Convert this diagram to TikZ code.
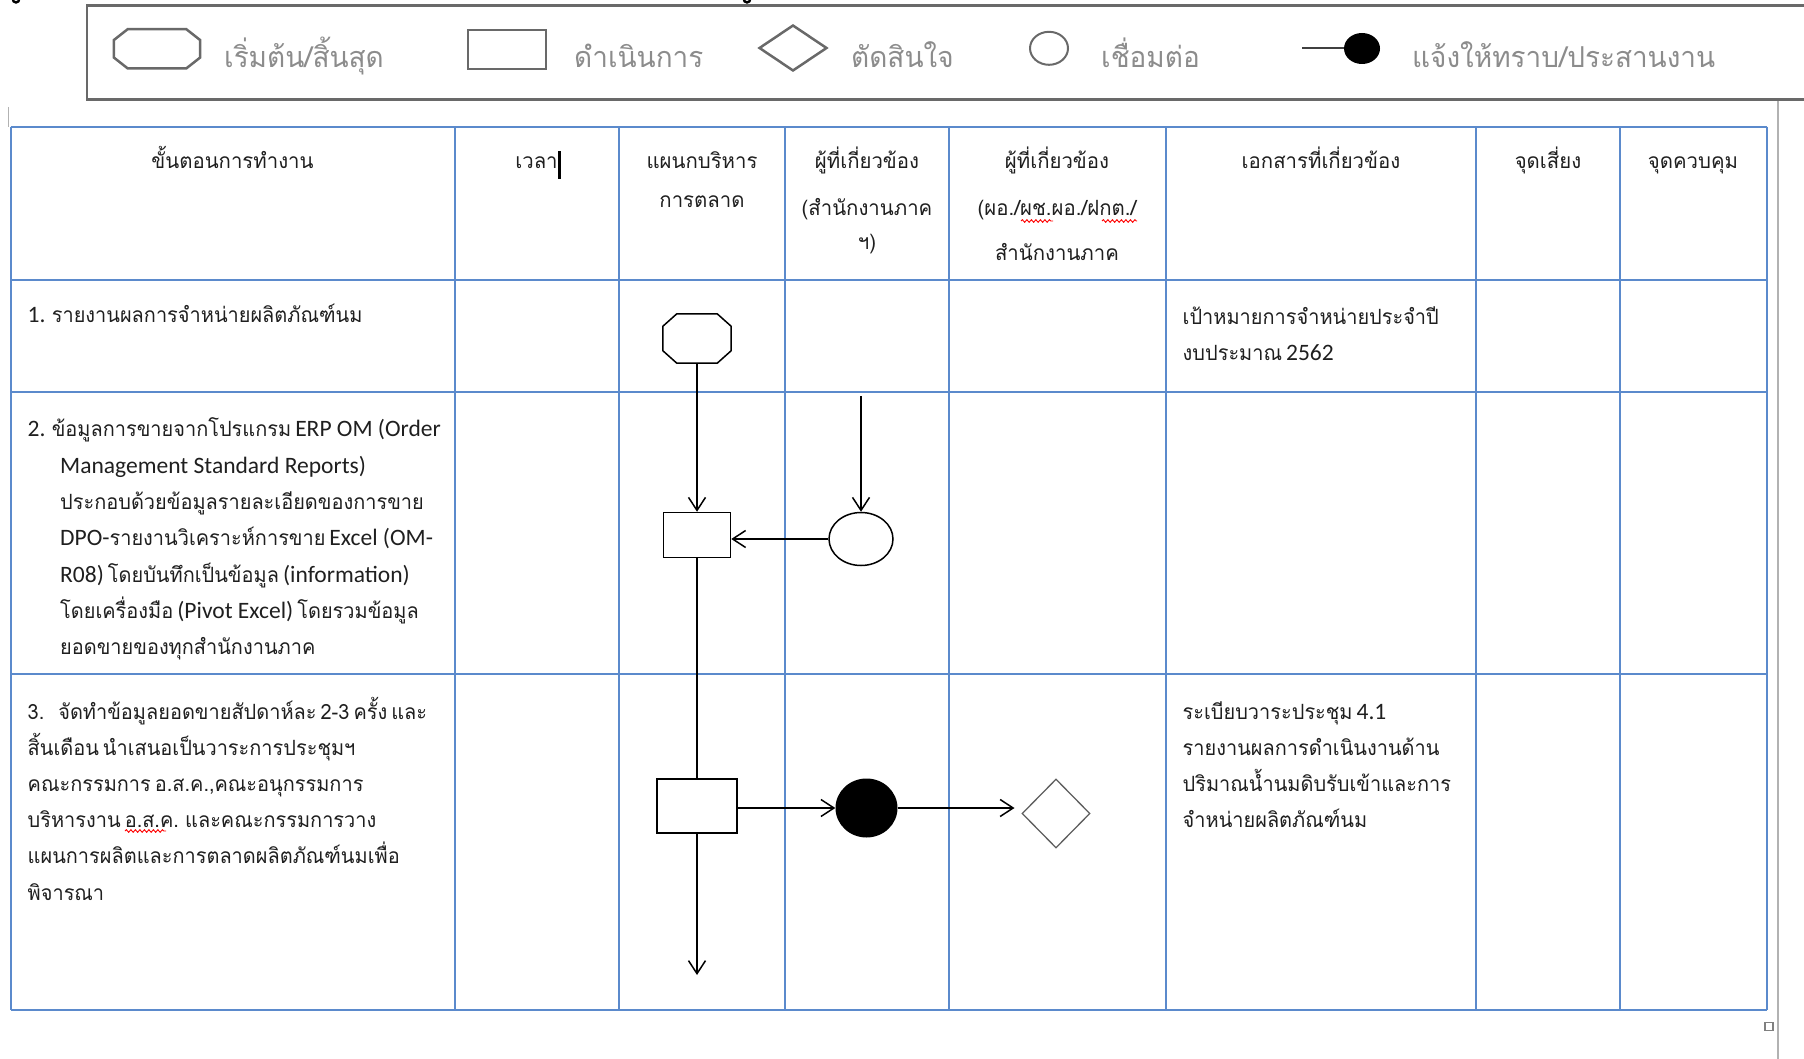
\documentclass[tikz,border=0pt]{standalone}
\usepackage{fontspec}
\setmainfont{Loma}[Script=Thai, FakeStretch=0.95, WordSpace=0.6]
\newfontfamily\headfont{Loma}[Script=Thai, FakeStretch=0.97]
\newfontfamily\enfont{Carlito}[Scale=1.12]
\newcommand\en[1]{{\enfont #1}}
\newcommand\bodyfont{\fontsize{21pt}{25pt}\selectfont}
\newcommand\hdfont{\headfont\fontsize{21pt}{25pt}\selectfont}
\newcommand\legfont{\headfont\fontsize{28.8pt}{33pt}\selectfont}
\usetikzlibrary{arrows.meta,shapes.geometric,decorations.pathmorphing,calc}
\definecolor{gridblue}{RGB}{91,138,204}
\definecolor{legline}{RGB}{105,105,105}
\definecolor{legtext}{RGB}{140,140,140}
\definecolor{pagegray}{RGB}{178,178,178}
\definecolor{inkgray}{RGB}{95,95,95}
\tikzset{
  legframe/.style={draw=legline, line width=2.5pt},
  legshape/.style={draw=legline, line width=2.5pt, inner sep=0pt},
  legtxt/.style={anchor=base west, inner sep=0pt, font=\legfont, text=legtext},
  grid/.style={draw=gridblue, line width=2pt},
  cell/.style={anchor=base west, inner sep=0pt, font=\bodyfont, text=black!88},
  head/.style={anchor=base, inner sep=0pt, font=\hdfont, text=black!88},
  frame/.style={inner sep=0pt, draw=none},
  flow/.style={draw=black, line width=1.5pt, inner sep=0pt, fill=white},
  flowline/.style={line width=1.5pt},
  conn/.style={line width=1.5pt, -{Straight Barb[length=13pt,width=17pt]}},
  spell/.style={draw=red, line width=0.9pt, decorate,
    decoration={snake, amplitude=1.3pt, segment length=4.5pt}}
}
% octagon drawn on the border of a named frame node: #1 node, #2 x-cut, #3 y-cut, #4 style
\newcommand\octagonon[4]{%
  \draw[#4] ($(#1.north west)+(#2,0)$) -- ($(#1.north east)+(-#2,0)$)
    -- ($(#1.north east)+(0,#3)$) -- ($(#1.south east)+(0,-#3)$)
    -- ($(#1.south east)+(-#2,0)$) -- ($(#1.south west)+(#2,0)$)
    -- ($(#1.south west)+(0,-#3)$) -- ($(#1.north west)+(0,#3)$) -- cycle;}
\begin{document}
\begin{tikzpicture}[x=1pt,y=-1pt,line join=miter]
\useasboundingbox (0,0) rectangle (1804,1059);

% ---------- page remnants ----------
\draw[line width=2.4pt] (12.5,-2) .. controls (12.5,4) and (19.5,4) .. (19.5,-2);
\draw[line width=2.4pt] (743.5,-2) .. controls (743.5,4) and (750.5,4) .. (750.5,-2);
\draw[pagegray, line width=1pt] (8.5,107) -- (8.5,127);
\draw[pagegray, line width=2pt] (1778,101.5) -- (1778,1070);
\draw[draw=gray, line width=1.6pt] (1765,1022.5) rectangle (1773,1030.5);

% ---------- legend ----------
\draw[legframe] (1830,5.7) -- (87,5.7) -- (87,99.5) -- (1830,99.5);

\node[frame, minimum width=86pt, minimum height=39pt] (lstart) at (157,48.8) {};
\octagonon{lstart}{14}{11}{legshape}
\node[legtxt] (ltxt1) at (224,68) {เริ่มต้น/สิ้นสุด};

\node[legshape, minimum width=78pt, minimum height=39pt] (lproc) at (507,49.5) {};
\node[legtxt] (ltxt2) at (574,68) {ดำเนินการ};

\node[legshape, diamond, minimum width=68pt, minimum height=46pt] (ldec) at (793,48) {};
\node[legtxt] (ltxt3) at (851,68) {ตัดสินใจ};

\node[legshape, ellipse, minimum width=38pt, minimum height=33pt, line width=2pt] (lcon) at (1049,48.3) {};
\node[legtxt] (ltxt4) at (1101,68) {เชื่อมต่อ};

\node[ellipse, fill=black, inner sep=0pt, minimum width=36pt, minimum height=31pt] (ldot) at (1362,48.5) {};
\coordinate (lfoot) at (1302,48.5);
\draw[black!75, line width=2pt] (lfoot) -- (ldot.west);
\node[legtxt] (ltxt5) at (1412,68) {แจ้งให้ทราบ/ประสานงาน};

% ---------- table grid ----------
\foreach \gx in {10.5,454.5,619,784.5,949,1165.5,1476,1620,1766.5}
  \draw[grid] (\gx,126.6) -- (\gx,1010);
\foreach \gy in {126.6,279.6,392.3,674.2,1010}
  \draw[grid] (10.5,\gy) -- (1766.5,\gy);

% ---------- header ----------
\node[head] (h1) at (232.5,169) {ขั้นตอนการทำงาน};
\node[head] (h2) at (536.5,169) {เวลา};
\fill[black] (558,151) rectangle (561,179);
\node[head] (h3a) at (702,169) {แผนกบริหาร};
\node[head] (h3b) at (702,208) {การตลาด};
\node[head] (h4a) at (867,169) {ผู้ที่เกี่ยวข้อง};
\node[head] (h4b) at (867,216) {(สำนักงานภาค};
\node[head] (h4c) at (867,250) {ฯ)};
\node[head] (h5a) at (1057,169) {ผู้ที่เกี่ยวข้อง};
\node[head] (h5b) at (1057,216) {(ผอ./ผช.ผอ./ฝกต./};
\node[head] (h5c) at (1057,261) {สำนักงานภาค};
\node[head] (h6) at (1321,169) {เอกสารที่เกี่ยวข้อง};
\node[head] (h7) at (1548,169) {จุดเสี่ยง};
\node[head] (h8) at (1693,169) {จุดควบคุม};
\draw[spell] (1021,221) -- (1053,221);
\draw[spell] (1102,221) -- (1137,221);

% ---------- step 1 ----------
\node[cell] (s1) at (27.5,323) {\en{1.} รายงานผลการจำหน่ายผลิตภัณฑ์นม};
\node[cell] (d1a) at (1182.5,324) {เป้าหมายการจำหน่ายประจำปี};
\node[cell] (d1b) at (1182.5,360) {งบประมาณ \en{2562}};

% ---------- step 2 ----------
\node[cell] (s2a) at (27.5,436.7) {\en{2.} ข้อมูลการขายจากโปรแกรม \en{ERP OM (Order}};
\node[cell] (s2b) at (60,473) {\en{Management Standard Reports)}};
\node[cell] (s2c) at (60,509.3) {ประกอบด้วยข้อมูลรายละเอียดของการขาย};
\node[cell] (s2d) at (60,545.6) {\en{DPO-}รายงานวิเคราะห์การขาย \en{Excel (OM-}};
\node[cell] (s2e) at (60,582) {\en{R08)} โดยบันทึกเป็นข้อมูล \en{(information)}};
\node[cell] (s2f) at (60,618.3) {โดยเครื่องมือ \en{(Pivot Excel)} โดยรวมข้อมูล};
\node[cell] (s2g) at (60,654.6) {ยอดขายของทุกสำนักงานภาค};

% ---------- step 3 ----------
\node[cell] (s3a) at (27.5,719) {3.\hspace{14pt}จัดทำข้อมูลยอดขายสัปดาห์ละ 2-3 ครั้ง และ};
\node[cell] (s3b) at (27.5,755.2) {สิ้นเดือน นำเสนอเป็นวาระการประชุมฯ};
\node[cell] (s3c) at (27.5,791.4) {คณะกรรมการ อ.ส.ค.,คณะอนุกรรมการ};
\node[cell] (s3d) at (27.5,827.6) {บริหารงาน อ.ส.ค. และคณะกรรมการวาง};
\node[cell] (s3e) at (27.5,863.8) {แผนการผลิตและการตลาดผลิตภัณฑ์นมเพื่อ};
\node[cell] (s3f) at (27.5,900) {พิจารณา};
\draw[spell] (125,831) -- (166,831);
\node[cell] (d3a) at (1182.5,719) {ระเบียบวาระประชุม \en{4.1}};
\node[cell] (d3b) at (1182.5,755.2) {รายงานผลการดำเนินงานด้าน};
\node[cell] (d3c) at (1182.5,791.4) {ปริมาณน้ำนมดิบรับเข้าและการ};
\node[cell] (d3d) at (1182.5,827.6) {จำหน่ายผลิตภัณฑ์นม};

% ---------- flow ----------
\node[frame, minimum width=68pt, minimum height=49pt] (start) at (697,338.5) {};
\octagonon{start}{14}{12.5}{flow}
\node[flow, minimum width=67pt, minimum height=45pt] (proc1) at (697,535) {};
\node[flow, ellipse, minimum width=64pt, minimum height=53pt] (link) at (861,539) {};
\coordinate (linkin) at (861,396);
\node[flow, minimum width=80pt, minimum height=54pt] (proc2) at (697,806) {};
\node[ellipse, fill=black, inner sep=0pt, minimum width=62pt, minimum height=59pt] (notify) at (866.5,808) {};
\node[draw=inkgray, line width=1.3pt, diamond, inner sep=0pt, minimum width=68pt, minimum height=69pt] (decide) at (1056,813.5) {};
\coordinate (decin) at (1014.5,808);
\coordinate (next) at (697,975);

\draw[conn] (start.south) -- (proc1.north);
\draw[conn] (linkin) -- (link.north);
\draw[conn] (link.west) -- (link.west -| proc1.east);
\draw[flowline] (proc1.south) -- (proc2.north);
\draw[conn] (proc2.south) -- (next);
\draw[conn] (proc2.east |- notify.west) -- (notify.west);
\draw[conn] (notify.east) -- (decin);
\end{tikzpicture}
\end{document}
